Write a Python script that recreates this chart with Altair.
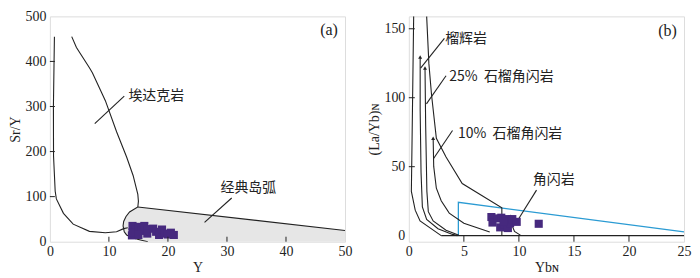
import altair as alt
import pandas as pd

FONT = "Liberation Serif, Noto Sans CJK SC"
CJK = "Noto Sans CJK SC, Liberation Serif"
INK = "#222222"
PURPLE = "#46297e"
BLUE = "#2b9bd3"
GRAY_FILL = "#e6e6e6"

# ---------------- Panel (a): Sr/Y vs Y ----------------
a_adakite_left_x = [0.77, 0.6, 0.62, 0.9, 1.1, 2.3, 3.95, 6.7, 9.4, 11.3, 12.5, 13.2]
a_adakite_left_y = [455, 300, 190, 112, 95, 63, 39, 23, 20, 22, 29, 31]
a_adakite_right_x = [3.7, 4.5, 6.7, 7.2, 9.4, 11.3, 13.0, 14.1, 14.9, 15.0, 14.9, 13.5,
                     12.9, 12.5, 12.4, 12.6, 13.0, 13.8, 14.4, 15.0, 16.6]
a_adakite_right_y = [455, 431, 386, 375, 313, 244, 188, 147, 105, 90, 77, 66,
                     56, 45, 35, 22, 15, 10, 7, 5, 0]
a_arc_top_x = [14.9, 50]
a_arc_top_y = [77, 25]
a_arc_fill_x = [12.4, 12.5, 12.9, 13.5, 14.4, 14.9, 16.6, 50]
a_arc_fill_upper = [35, 45, 56, 66, 73, 77, 74.6, 25]
a_arc_fill_lower = [33, 28, 16, 12, 7, 5, 0, 0]
a_leader1_x = [7.6, 12.6]
a_leader1_y = [262, 323]
a_leader2_x = [26.2, 30.8]
a_leader2_y = [43, 97]

a_pts_x = [13.9, 14.0, 14.5, 14.0, 15.0, 15.5, 15.0, 16.0, 16.5, 16.5, 17.5, 18.0,
           18.5, 19.0, 19.5, 20.5, 21.0, 20.0]
a_pts_y = [14, 35, 28, 21, 33, 24, 15, 35, 28, 18, 29, 22, 15, 27, 18, 20, 15, 16]

a_labels = ["埃达克岩", "经典岛弧"]
a_labels_x = [13.3, 28.9]
a_labels_y = [323, 120]
a_tag = ["(a)"]
a_tag_x = [45.8]
a_tag_y = [469]

a_xticks = [0, 10, 20, 30, 40, 50]
a_yticks = [0, 100, 200, 300, 400, 500]

# ---------------- Panel (b): (La/Yb)N vs YbN ----------------
b_c1_x = [0.44, 0.29, 0.23, 0.58, 1.02, 2.94]
b_c1_y = [159, 67, 32.1, 18.5, 10.7, 0]
b_c2_x = [1.03, 1.03, 1.11, 1.23, 1.62, 2.65, 3.97, 4.41]
b_c2_y = [129.5, 91, 45.7, 20.9, 11.7, 5.0, 0.9, 0]
b_c3_x = [1.47, 1.53, 1.64, 1.77, 2.21, 3.38, 4.55]
b_c3_y = [121.5, 79.6, 32.1, 17.4, 10.7, 3.9, 0.3]
b_c4_x = [2.21, 2.26, 2.5, 2.94, 3.67, 5.0, 7.35]
b_c4_y = [70.6, 50.2, 34.4, 25.3, 16.3, 9.0, 2.7]
b_c5_x = [1.62, 1.82, 2.06, 2.5, 3.38, 4.85, 8.45, 8.45]
b_c5_y = [159, 124.9, 102.3, 70.6, 57.0, 37.8, 20.2, 0]
b_c6_x = [9.27, 9.35, 9.6, 10.2]
b_c6_y = [14, 8, 3, 0]
b_base_x = [2.94, 25]
b_base_y = [0, 0]
b_blue_x = [4.5, 4.5, 25]
b_blue_y = [0, 24.2, 2.7]
b_leaders = {
    "l1": ([1.07, 3.23], [121.5, 143]),
    "l2": ([1.6, 3.38], [95.5, 115.9]),
    "l3": ([2.25, 3.97], [55.9, 76.2]),
    "l4": ([9.85, 11.6], [10.6, 33]),
}
b_arrow_x = [1.03, 1.47, 2.21, 9.27]
b_arrow_y = [129.5, 121.5, 70.6, 14]

b_pts_x = [7.5, 7.6, 8.1, 8.4, 8.3, 8.7, 8.8, 9.0, 9.2, 9.4, 9.8, 8.6, 11.8]
b_pts_y = [13.5, 9.5, 12.5, 13, 6, 8, 12, 5.5, 9, 12, 10, 10, 8.6]

b_labels = ["榴辉岩", "25%\u00a0\u00a0石榴角闪岩", "10%\u00a0\u00a0石榴角闪岩", "角闪岩"]
b_labels_x = [3.3, 3.68, 4.47, 11.26]
b_labels_y = [142.6, 114.7, 74, 40.7]
b_tag = ["(b)"]
b_tag_x = [22.65]
b_tag_y = [148.7]

b_xticks = [0, 5, 10, 15, 20, 25]
b_yticks = [0, 50, 100, 150]

# ---------------- helpers ----------------
H = 226
W_A = 296
W_B = 276


def lines_df(curves):
    rows = []
    for name, (xs, ys) in curves.items():
        for i, (x, y) in enumerate(zip(xs, ys)):
            rows.append({"curve": name, "i": i, "x": x, "y": y})
    return pd.DataFrame(rows)


def xy_df(xs, ys, **extra):
    d = {"x": xs, "y": ys}
    d.update(extra)
    return pd.DataFrame(d)


def make_panel(xdom, ydom, xticks, yticks, xtitle, ytitle):
    xs = alt.Scale(domain=xdom, nice=False, zero=False)
    ys = alt.Scale(domain=ydom, nice=False, zero=False)
    xa = alt.Axis(values=xticks, ticks=False, domain=False, grid=False,
                  labelFont=FONT, labelFontSize=14, labelColor=INK, labelPadding=3,
                  labelFlush=False, title=xtitle, titleFont=FONT, titleFontSize=14,
                  titleFontWeight="normal", titleColor=INK, titlePadding=2)
    ya = alt.Axis(values=yticks, ticks=False, domain=False, grid=False,
                  labelFont=FONT, labelFontSize=14, labelColor=INK, labelPadding=4,
                  labelFlush=False, title=ytitle, titleFont=FONT, titleFontSize=14,
                  titleFontWeight="normal", titleColor=INK, titlePadding=2)
    X = lambda f="x": alt.X(f"{f}:Q", scale=xs, axis=xa)
    Y = lambda f="y": alt.Y(f"{f}:Q", scale=ys, axis=ya)
    return X, Y


# ---------------- Panel (a) ----------------
Xa, Ya = make_panel([0, 50], [0, 500], a_xticks, a_yticks, "Y", "Sr/Y")

a_fill = alt.Chart(pd.DataFrame({"x": a_arc_fill_x, "y": a_arc_fill_upper,
                                 "y2": a_arc_fill_lower})).mark_area(
    color=GRAY_FILL, opacity=1, interpolate="monotone").encode(
    x=Xa(), y=Ya(), y2="y2:Q")

a_lines = alt.Chart(lines_df({
    "left": (a_adakite_left_x, a_adakite_left_y),
    "right": (a_adakite_right_x, a_adakite_right_y),
    "arctop": (a_arc_top_x, a_arc_top_y),
    "lead1": (a_leader1_x, a_leader1_y),
    "lead2": (a_leader2_x, a_leader2_y),
})).mark_line(color=INK, strokeWidth=1.1, clip=True).encode(
    x=Xa(), y=Ya(), detail="curve:N", order="i:Q")

a_points = alt.Chart(xy_df(a_pts_x, a_pts_y)).mark_point(
    shape="square", filled=True, size=66, color=PURPLE, opacity=1).encode(x=Xa(), y=Ya())

a_text = alt.Chart(xy_df(a_labels_x, a_labels_y, t=a_labels)).mark_text(
    align="left", baseline="middle", font=CJK, fontSize=14, color=INK).encode(
    x=Xa(), y=Ya(), text="t:N")
a_tagm = alt.Chart(xy_df(a_tag_x, a_tag_y, t=a_tag)).mark_text(
    align="left", baseline="middle", font=FONT, fontSize=16, color=INK).encode(
    x=Xa(), y=Ya(), text="t:N")

a_yt = alt.Chart(pd.DataFrame({"v": a_yticks[1:-1]})).mark_rule(color=INK, strokeWidth=1).encode(
    y=Ya("v"), x=alt.value(0), x2=alt.value(5))
a_xt = alt.Chart(pd.DataFrame({"v": a_xticks[1:-1]})).mark_rule(color=INK, strokeWidth=1).encode(
    x=Xa("v"), y=alt.value(H), y2=alt.value(H - 5))

panel_a = alt.layer(a_fill, a_lines, a_points, a_text, a_tagm, a_yt, a_xt).properties(
    width=W_A, height=H)

# ---------------- Panel (b) ----------------
Xb, Yb = make_panel([0, 25], [-4.4, 159], b_xticks, b_yticks, "Ybɴ", "(La/Yb)ɴ")

curves_b = {
    "c1": (b_c1_x, b_c1_y), "c2": (b_c2_x, b_c2_y), "c3": (b_c3_x, b_c3_y),
    "c4": (b_c4_x, b_c4_y), "c5": (b_c5_x, b_c5_y), "c6": (b_c6_x, b_c6_y),
    "base": (b_base_x, b_base_y),
}
curves_b.update(b_leaders)
b_lines = alt.Chart(lines_df(curves_b)).mark_line(color=INK, strokeWidth=1.1, clip=True).encode(
    x=Xb(), y=Yb(), detail="curve:N", order="i:Q")
b_blue = alt.Chart(lines_df({"blue": (b_blue_x, b_blue_y)})).mark_line(
    color=BLUE, strokeWidth=1.3, clip=True).encode(x=Xb(), y=Yb(), order="i:Q")
b_arrows = alt.Chart(xy_df(b_arrow_x, b_arrow_y)).mark_point(
    shape="triangle-up", filled=True, size=16, color=INK, opacity=1).encode(x=Xb(), y=Yb())
b_points = alt.Chart(xy_df(b_pts_x, b_pts_y)).mark_point(
    shape="square", filled=True, size=66, color=PURPLE, opacity=1).encode(x=Xb(), y=Yb())
b_text = alt.Chart(xy_df(b_labels_x, b_labels_y, t=b_labels)).mark_text(
    align="left", baseline="middle", font=CJK, fontSize=14, color=INK).encode(
    x=Xb(), y=Yb(), text="t:N")
b_tagm = alt.Chart(xy_df(b_tag_x, b_tag_y, t=b_tag)).mark_text(
    align="left", baseline="middle", font=FONT, fontSize=16, color=INK).encode(
    x=Xb(), y=Yb(), text="t:N")
b_yt = alt.Chart(pd.DataFrame({"v": b_yticks[1:]})).mark_rule(color=INK, strokeWidth=1).encode(
    y=Yb("v"), x=alt.value(0), x2=alt.value(6))
b_xt = alt.Chart(pd.DataFrame({"v": b_xticks[1:-1]})).mark_rule(color=INK, strokeWidth=1).encode(
    x=Xb("v"), y=alt.value(H), y2=alt.value(H - 6))

panel_b = alt.layer(b_blue, b_lines, b_arrows, b_points, b_text, b_tagm, b_yt, b_xt).properties(
    width=W_B, height=H)

chart = alt.hconcat(panel_a, panel_b, spacing=14).properties(padding=0).configure_view(
    stroke="#333333", strokeWidth=1.2).configure(background="white")

chart.save("out.html", embed_options={"renderer": "svg", "actions": False})
